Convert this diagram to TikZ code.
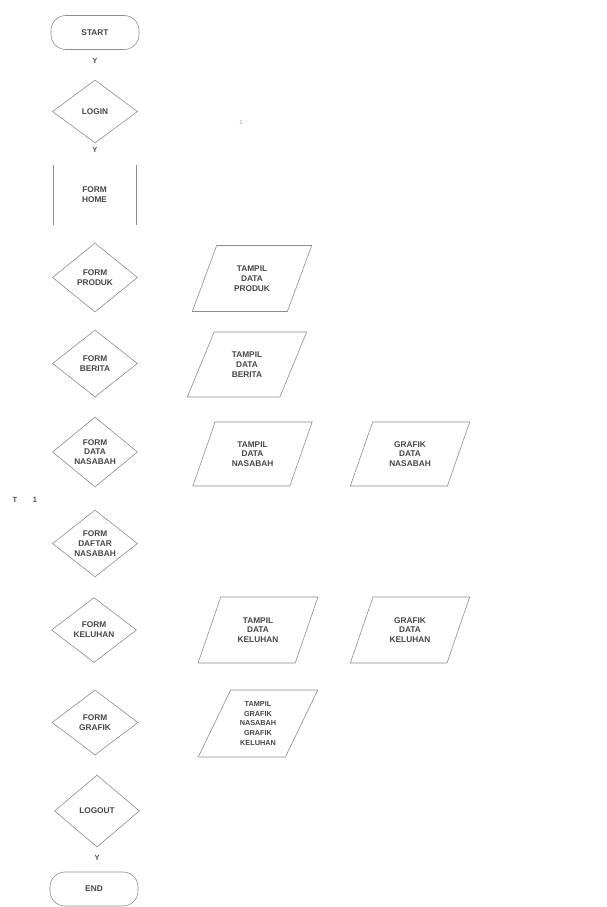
\documentclass[tikz,border=0pt]{standalone}
\usepackage{fontspec}
\setmainfont{Liberation Sans}
\usetikzlibrary{shapes.geometric}
\begin{document}
\begin{tikzpicture}[x=1pt,y=-1pt,
  every node/.style={font=\bfseries\fontsize{8.3}{9.8}\selectfont, text=black!72, align=center},
  ln/.style={draw=black!45, line width=0.6pt},
  term/.style={ln, rectangle, rounded corners=15pt, minimum width=88pt, minimum height=34pt, inner sep=0pt},
  dec/.style={ln, diamond, inner sep=0pt, minimum width=85pt, shape aspect=1.3},
  io/.style={ln, trapezium, trapezium left angle=64, trapezium right angle=116, trapezium stretches=true, minimum width=120pt, minimum height=66pt, inner sep=0pt},
  lbl/.style={font=\bfseries\fontsize{7.5}{8}\selectfont, text=black!70},
  faint/.style={font=\fontsize{6}{7}\selectfont, text=black!40}
]
\useasboundingbox (0,0) rectangle (606,907);

% main column
\node[term] (start) at (95,32.5) {START};
\node[lbl] (y1) at (95,61) {Y};
\node[dec, minimum height=63pt] (login) at (95,111.5) {LOGIN};
\node[lbl] (y2) at (95,150) {Y};
\node[minimum width=83pt, minimum height=60pt, inner sep=0pt] (home) at (94.5,195) {FORM\\HOME};
\draw[ln] (home.north west) -- (home.south west);
\draw[ln] (home.north east) -- (home.south east);
\node[dec, minimum height=69pt] (produk) at (95,277.5) {FORM\\PRODUK};
\node[dec, minimum height=67pt] (berita) at (95,363.5) {FORM\\BERITA};
\node[dec, minimum height=70pt] (nasabah) at (95,452) {FORM\\DATA\\NASABAH};
\node[lbl] (tT) at (15,500) {T};
\node[lbl] (t1) at (35,500) {1};
\node[dec, minimum height=67pt] (daftar) at (95,543.5) {FORM\\DAFTAR\\NASABAH};
\node[dec, minimum height=65pt] (keluhan) at (94,630) {FORM\\KELUHAN};
\node[dec, minimum height=65pt, minimum width=86pt] (grafik) at (95,722.5) {FORM\\GRAFIK};
\node[dec, minimum height=72pt] (logout) at (97,811) {LOGOUT};
\node[lbl] (y3) at (97,858) {Y};
\node[term] (end) at (94,889) {END};

% stray mark
\node[faint] (mark) at (241,122) {1};

% outputs
\node[io] (tproduk) at (252,278.5) {TAMPIL\\DATA\\PRODUK};
\node[io, minimum height=65pt] (tberita) at (247,364.5) {TAMPIL\\DATA\\BERITA};
\node[io, minimum height=64pt] (tnasabah) at (252.5,454) {TAMPIL\\DATA\\NASABAH};
\node[io, minimum height=64pt] (gnasabah) at (410,454) {GRAFIK\\DATA\\NASABAH};
\node[io] (tkeluhan) at (258,630) {TAMPIL\\DATA\\KELUHAN};
\node[io] (gkeluhan) at (410,630) {GRAFIK\\DATA\\KELUHAN};
\node[io, minimum height=67pt, font=\bfseries\fontsize{7.3}{9.8}\selectfont] (tgrafik) at (258,723.5) {TAMPIL\\GRAFIK\\NASABAH\\GRAFIK\\KELUHAN};
\end{tikzpicture}
\end{document}
